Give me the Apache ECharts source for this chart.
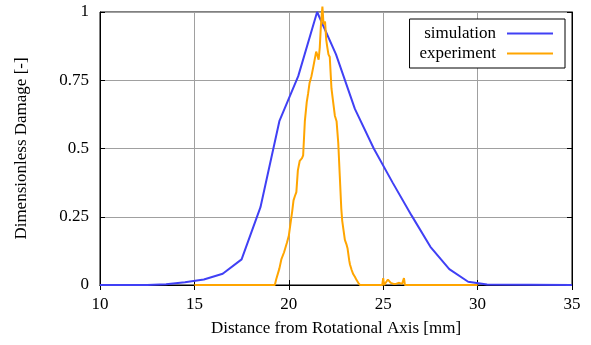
<!DOCTYPE html>
<html>
<head>
<meta charset="utf-8">
<script src="https://cdn.jsdelivr.net/npm/echarts@6/dist/echarts.min.js"></script>
<style>html,body{margin:0;padding:0;background:#fff}#c{width:591px;height:345px}</style>
</head>
<body>
<div id="c"></div>
<script>
const simX = [10, 12.5, 13.5, 14.5, 15.5, 16.5, 17.5, 18.5, 19.5, 20.5, 21.5, 22.5, 23.5, 24.5, 25.5, 26.5, 27.5, 28.5, 29.5, 30.5, 35];
const simY = [0, 0, 0.003, 0.01, 0.02, 0.041, 0.094, 0.285, 0.6, 0.765, 1.0, 0.845, 0.645, 0.5, 0.375, 0.255, 0.14, 0.058, 0.012, 0.002, 0];

const expX = [15, 19.26, 19.33, 19.4, 19.5, 19.61, 19.75, 19.9, 20.0, 20.08, 20.18, 20.25, 20.32, 20.4, 20.48, 20.58, 20.7, 20.76, 20.85, 20.95, 21.02, 21.1, 21.2, 21.3, 21.45, 21.52, 21.58, 21.64, 21.7, 21.78, 21.84, 21.92, 21.98, 22.03, 22.1, 22.17, 22.26, 22.35, 22.44, 22.53, 22.62, 22.7, 22.78, 22.83, 22.9, 22.97, 23.05, 23.11, 23.2, 23.24, 23.33, 23.41, 23.5, 23.59, 23.68, 23.77, 24.95, 25.0, 25.05, 25.15, 25.25, 25.32, 25.4, 25.48, 25.55, 25.7, 25.85, 25.92, 26.0, 26.1, 26.15, 30];
const expY = [0, 0, 0.02, 0.025, 0.06, 0.095, 0.12, 0.155, 0.18, 0.22, 0.27, 0.31, 0.325, 0.34, 0.42, 0.455, 0.465, 0.475, 0.6, 0.67, 0.70, 0.74, 0.765, 0.8, 0.855, 0.84, 0.825, 0.87, 0.95, 1.02, 0.955, 0.965, 0.9, 0.875, 0.845, 0.835, 0.72, 0.67, 0.62, 0.6, 0.52, 0.4, 0.28, 0.235, 0.2, 0.165, 0.15, 0.135, 0.09, 0.075, 0.055, 0.04, 0.03, 0.018, 0.008, 0, 0, 0.025, 0, 0.005, 0.02, 0.015, 0.008, 0.012, 0.004, 0.005, 0.008, 0.012, 0.004, 0.025, 0, 0];

const xTicks = [10, 15, 20, 25, 30, 35];
const yTicks = [0, 0.25, 0.5, 0.75, 1];

const FONT = 'Liberation Serif';
const FS = 17;
const pair = (xs, ys) => xs.map((x, i) => [x, ys[i]]);

const chart = echarts.init(document.getElementById('c'), null, {renderer: 'canvas'});
const common = {
  type: 'value', min: xTicks[0], max: xTicks[xTicks.length - 1], interval: 5
};
chart.setOption({
  animation: false,
  backgroundColor: '#fff',
  grid: {left: 100, right: 19, top: 12, bottom: 60, show: true, borderColor: '#000', borderWidth: 1, backgroundColor: 'transparent'},
  legend: {
    orient: 'vertical', right: 26, top: 19,
    padding: [6, 12, 6, 10], itemGap: 3,
    borderColor: '#000', borderWidth: 1, borderRadius: 0, backgroundColor: '#fff',
    align: 'right', icon: 'rect', itemWidth: 46, itemHeight: 2,
    textStyle: {fontFamily: FONT, fontSize: FS, color: '#000', width: 103, align: 'right', padding: [0, 6, 0, 0]},
    data: ['simulation', 'experiment']
  },
  xAxis: [
    Object.assign({}, common, {
      position: 'bottom',
      name: 'Distance from Rotational Axis [mm]', nameLocation: 'middle', nameGap: 35,
      nameTextStyle: {fontFamily: FONT, fontSize: FS, color: '#000'},
      axisLine: {lineStyle: {color: '#000', width: 1}},
      axisTick: {inside: true, length: 5, lineStyle: {color: '#000'}},
      axisLabel: {fontFamily: FONT, fontSize: FS, color: '#000', margin: 11},
      splitLine: {show: true, lineStyle: {color: '#a0a0a0', width: 1}}
    }),
    Object.assign({}, common, {
      position: 'top',
      axisLine: {lineStyle: {color: '#000'}},
      axisTick: {inside: true, length: 5, lineStyle: {color: '#000'}},
      axisLabel: {show: false}, splitLine: {show: false}
    })
  ],
  yAxis: [
    {
      type: 'value', min: yTicks[0], max: yTicks[yTicks.length - 1], interval: 0.25,
      name: 'Dimensionless Damage [-]', nameLocation: 'middle', nameGap: 70,
      nameTextStyle: {fontFamily: FONT, fontSize: FS, color: '#000'},
      axisLine: {show: true, lineStyle: {color: '#000', width: 1}},
      axisTick: {show: true, inside: true, length: 5, lineStyle: {color: '#000'}},
      axisLabel: {fontFamily: FONT, fontSize: FS, color: '#000', margin: 11},
      splitLine: {show: true, lineStyle: {color: '#a0a0a0', width: 1}}
    },
    {
      type: 'value', min: yTicks[0], max: yTicks[yTicks.length - 1], interval: 0.25, position: 'right',
      axisLine: {show: true, lineStyle: {color: '#000'}},
      axisTick: {show: true, inside: true, length: 5, lineStyle: {color: '#000'}},
      axisLabel: {show: false}, splitLine: {show: false}
    }
  ],
  series: [
    {name: 'simulation', type: 'line', data: pair(simX, simY), showSymbol: false, symbol: 'none',
     lineStyle: {color: '#4040f5', width: 2}, itemStyle: {color: '#4040f5'}, clip: false, z: 3},
    {name: 'experiment', type: 'line', data: pair(expX, expY), showSymbol: false, symbol: 'none',
     lineStyle: {color: '#ffa500', width: 2}, itemStyle: {color: '#ffa500'}, clip: false, z: 4}
  ]
});
</script>
</body>
</html>
